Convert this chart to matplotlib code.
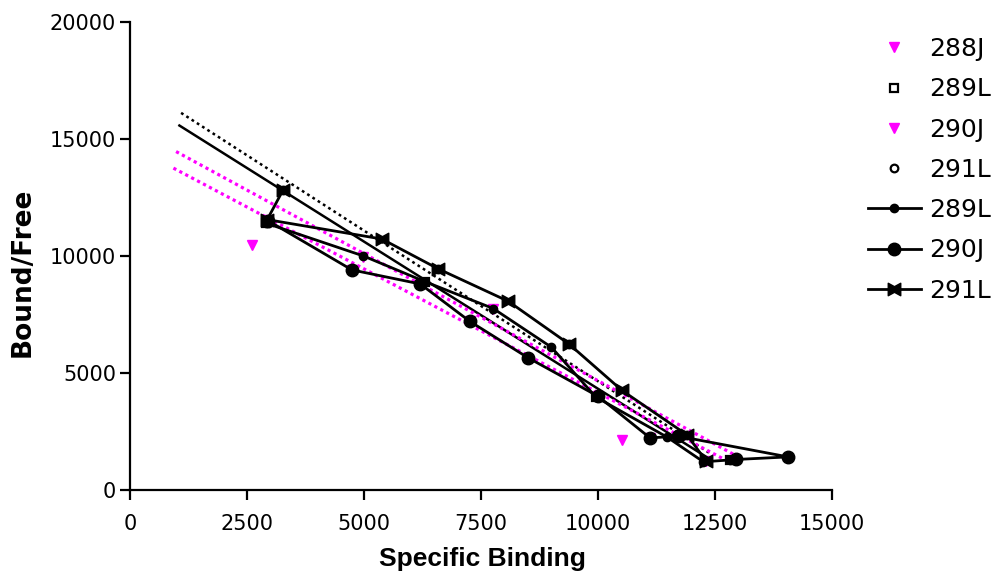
import matplotlib
matplotlib.use("Agg")
import matplotlib.pyplot as plt
from matplotlib.path import Path

plt.rcParams['font.family'] = ['DejaVu Sans']

# ---- data ----
# scatter-only series
s288J_x = [2607, 4980, 7760, 10513, 12300]
s288J_y = [10470, 9950, 7750, 2137, 1230]
s289L_x = [2900, 6300, 9950, 12820]
s289L_y = [11400, 8900, 3970, 1280]
s290J_x = [2950, 4740, 7260, 10000, 11110]
s290J_y = [11550, 9400, 7200, 4000, 2220]
s291L_x = [3270, 6580, 9380, 11900]
s291L_y = [12820, 9450, 6230, 2350]

# connected series
l289L_x = [2900, 4980, 6300, 7760, 9000, 9950, 11470, 12250, 12820]
l289L_y = [11400, 10000, 8900, 7750, 6100, 3970, 2260, 1200, 1280]
l290J_x = [2950, 4740, 6200, 7260, 8500, 10000, 11110, 11700, 14060, 12950]
l290J_y = [11500, 9400, 8800, 7200, 5650, 4000, 2220, 2300, 1410, 1300]
l291L_x = [3270, 2930, 5380, 6580, 8080, 9380, 10510, 11900, 12300]
l291L_y = [12820, 11550, 10720, 9450, 8060, 6230, 4250, 2350, 1250]

# fitted lines (start / end)
fit289L_x = [1090, 12400]
fit289L_y = [16110, 1550]
fit291L_x = [1054, 12400]
fit291L_y = [15570, 1300]
fit288J_x = [983, 13050]
fit288J_y = [14457, 1350]
fit290J_x = [926, 12700]
fit290J_y = [13750, 1300]

x_ticks = [0, 2500, 5000, 7500, 10000, 12500, 15000]
y_ticks = [0, 5000, 10000, 15000, 20000]
legend_labels = ['288J', '289L', '290J', '291L', '289L', '290J', '291L']

# bowtie marker
bowtie = Path([(-1, -1), (0, -0.45), (1, -1), (1, 1), (0, 0.45), (-1, 1), (-1, -1)],
              [Path.MOVETO, Path.LINETO, Path.LINETO, Path.LINETO, Path.LINETO,
               Path.LINETO, Path.CLOSEPOLY])

fig = plt.figure(figsize=(9.93, 5.75), dpi=100)
ax = fig.add_axes([0.131, 0.148, 0.707, 0.814])

magenta = '#ff00ff'

# fit lines
ax.plot(fit289L_x, fit289L_y, color='black', lw=1.8, linestyle=(0, (1.1, 1.4)), zorder=2)
ax.plot(fit291L_x, fit291L_y, color='black', lw=1.8, linestyle='-', zorder=2)
ax.plot(fit288J_x, fit288J_y, color=magenta, lw=2.3, linestyle=(0, (1.0, 1.1)), zorder=2)
ax.plot(fit290J_x, fit290J_y, color=magenta, lw=2.3, linestyle=(0, (1.0, 1.1)), zorder=2)

# scatter series
h1, = ax.plot(s288J_x, s288J_y, linestyle='none', marker='v', color=magenta, ms=6.5, zorder=1)
h2, = ax.plot(s289L_x, s289L_y, linestyle='none', marker='s', mfc='white', mec='black', mew=1.6, ms=5.5, zorder=1)
h3, = ax.plot(s290J_x, s290J_y, linestyle='none', marker='v', color=magenta, ms=6.5, zorder=1)
h4, = ax.plot(s291L_x, s291L_y, linestyle='none', marker='o', mfc='white', mec='black', mew=1.6, ms=5.5, zorder=1)

# connected series
h5, = ax.plot(l289L_x, l289L_y, color='black', lw=2.0, marker='o', ms=6, zorder=3)
h6, = ax.plot(l290J_x, l290J_y, color='black', lw=2.0, marker='o', ms=9, zorder=3)
h7, = ax.plot(l291L_x, l291L_y, color='black', lw=2.0, marker=bowtie, ms=9, zorder=3)

ax.set_xlim(0, 15000)
ax.set_ylim(0, 20000)
ax.set_xticks(x_ticks)
ax.set_yticks(y_ticks)
ax.tick_params(direction='out', length=7, width=1.6, labelsize=15, colors='black')
ax.tick_params(axis='x', pad=10)
ax.tick_params(axis='y', pad=3)
for s in ['top', 'right']:
    ax.spines[s].set_visible(False)
for s in ['left', 'bottom']:
    ax.spines[s].set_linewidth(1.6)

ax.set_xlabel('Specific Binding', fontsize=19, fontweight='bold',
              family='Liberation Sans')
ax.xaxis.set_label_coords(482 / 993, 1 - 547 / 575, transform=fig.transFigure)
ax.set_ylabel('Bound/Free', fontsize=19, fontweight='bold')
ax.yaxis.set_label_coords(36 / 993, 1 - 272 / 575, transform=fig.transFigure)

fig.legend([h1, h2, h3, h4, h5, h6, h7], legend_labels,
           loc='upper left', bbox_to_anchor=(868 / 993, 1 - 37 / 575),
           bbox_transform=fig.transFigure, frameon=False,
           fontsize=18, labelspacing=0.65, handlelength=2.1, handletextpad=0.35,
           borderaxespad=0, borderpad=0)

fig.savefig('out.png', dpi=100)
